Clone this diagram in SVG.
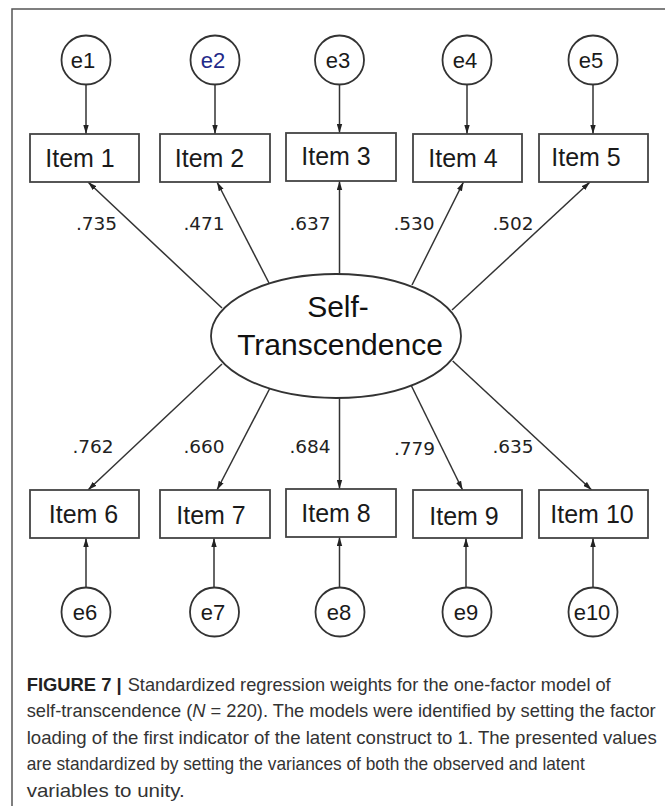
<svg xmlns="http://www.w3.org/2000/svg" width="665" height="806" viewBox="0 0 665 806">
<defs>
<style>
.frame{fill:none;stroke:#555;stroke-width:1.5}
.box{fill:#fff;stroke:#444;stroke-width:1.8}
.err{fill:#fff;stroke:#333;stroke-width:1.8}
.lat{fill:#fff;stroke:#333;stroke-width:1.8}
.lbl{font-family:"Liberation Sans",Arial,sans-serif;font-size:25px;fill:#1a1a1a;text-anchor:middle}
.elbl{font-family:"Liberation Sans",Arial,sans-serif;font-size:22px;fill:#1a1a1a;text-anchor:middle}
.big{font-family:"Liberation Sans",Arial,sans-serif;font-size:30px;fill:#111;text-anchor:middle}
.ld{font-family:"DejaVu Sans",sans-serif;font-size:18.5px;fill:#222;text-anchor:middle}
.cap{font-family:"Liberation Sans",Arial,sans-serif;font-size:18.5px;fill:#333}
.capb{font-family:"Liberation Sans",Arial,sans-serif;font-size:18.5px;font-weight:bold;fill:#222}
.edge{stroke:#333;stroke-width:1.5;fill:none;marker-end:url(#ah)}
</style>
<marker id="ah" viewBox="0 0 10 6" refX="10" refY="3" markerWidth="9" markerHeight="6" markerUnits="userSpaceOnUse" orient="auto">
<path d="M0,0 L10,3 L0,6 Z" fill="#222"/>
</marker>
</defs>
<rect x="0" y="0" width="665" height="806" fill="#fff"/>
<rect class="frame" x="12" y="9" width="700" height="850"/>

<g id="connectors">
<line class="edge" x1="86" y1="84" x2="86" y2="134"/>
<line class="edge" x1="215" y1="84" x2="215" y2="134"/>
<line class="edge" x1="339.5" y1="84" x2="339.5" y2="133"/>
<line class="edge" x1="467" y1="84" x2="467" y2="134"/>
<line class="edge" x1="593" y1="84" x2="593" y2="134"/>
<line class="edge" x1="86" y1="588" x2="86" y2="538"/>
<line class="edge" x1="214" y1="588" x2="214" y2="538"/>
<line class="edge" x1="339.5" y1="588" x2="339.5" y2="537"/>
<line class="edge" x1="466" y1="588" x2="466" y2="538"/>
<line class="edge" x1="593" y1="588" x2="593" y2="538"/>
<line class="edge" x1="222" y1="308" x2="88" y2="182"/>
<line class="edge" x1="269" y1="283" x2="217" y2="182"/>
<line class="edge" x1="339.5" y1="274" x2="339.5" y2="181"/>
<line class="edge" x1="412" y1="285" x2="463.5" y2="182"/>
<line class="edge" x1="452" y1="310" x2="590" y2="182"/>
<line class="edge" x1="222" y1="364" x2="88" y2="490"/>
<line class="edge" x1="270" y1="388" x2="217" y2="490"/>
<line class="edge" x1="339.5" y1="398" x2="339.5" y2="489"/>
<line class="edge" x1="411" y1="385" x2="462.6" y2="490"/>
<line class="edge" x1="452.7" y1="361" x2="591.7" y2="490"/>
<text class="ld" x="96.5" y="230">.735</text>
<text class="ld" x="204" y="230">.471</text>
<text class="ld" x="310" y="230">.637</text>
<text class="ld" x="414" y="230">.530</text>
<text class="ld" x="513" y="230">.502</text>
<text class="ld" x="93" y="453">.762</text>
<text class="ld" x="204" y="453">.660</text>
<text class="ld" x="310" y="453">.684</text>
<text class="ld" x="414.5" y="455">.779</text>
<text class="ld" x="513" y="453">.635</text>
</g>

<g id="latent">
<ellipse class="lat" cx="336" cy="336" rx="125" ry="62"/>
<text class="big" x="338" y="317">Self-</text>
<text class="big" x="340" y="355">Transcendence</text>
</g>

<g id="e1"><circle class="err" cx="86" cy="60" r="24.5"/><text class="elbl" x="83" y="68">e1</text></g>
<g id="e2"><circle class="err" cx="215" cy="60" r="24.5"/><text class="elbl" x="213" y="68" style="fill:#1f2a8a">e2</text></g>
<g id="e3"><circle class="err" cx="339.5" cy="60" r="24.5"/><text class="elbl" x="338" y="68">e3</text></g>
<g id="e4"><circle class="err" cx="467" cy="60" r="24.5"/><text class="elbl" x="465" y="68">e4</text></g>
<g id="e5"><circle class="err" cx="593" cy="60" r="24.5"/><text class="elbl" x="591" y="68">e5</text></g>

<g id="item1"><rect class="box" x="30" y="134" width="109" height="48"/><text class="lbl" x="80" y="167">Item 1</text></g>
<g id="item2"><rect class="box" x="160" y="134" width="110" height="48"/><text class="lbl" x="209.5" y="167">Item 2</text></g>
<g id="item3"><rect class="box" x="286" y="133" width="110" height="48"/><text class="lbl" x="336" y="165">Item 3</text></g>
<g id="item4"><rect class="box" x="413" y="134" width="109" height="48"/><text class="lbl" x="463" y="167">Item 4</text></g>
<g id="item5"><rect class="box" x="539" y="134" width="109" height="48"/><text class="lbl" x="586" y="166">Item 5</text></g>

<g id="item6"><rect class="box" x="30" y="490" width="109" height="48"/><text class="lbl" x="83.5" y="523">Item 6</text></g>
<g id="item7"><rect class="box" x="160" y="490" width="110" height="48"/><text class="lbl" x="211" y="524">Item 7</text></g>
<g id="item8"><rect class="box" x="286" y="489" width="110" height="48"/><text class="lbl" x="336" y="522">Item 8</text></g>
<g id="item9"><rect class="box" x="413" y="490" width="109" height="48"/><text class="lbl" x="464" y="525">Item 9</text></g>
<g id="item10"><rect class="box" x="539" y="490" width="109" height="48"/><text class="lbl" x="592" y="523">Item 10</text></g>

<g id="e6"><circle class="err" cx="86" cy="612" r="24.5"/><text class="elbl" x="85" y="620">e6</text></g>
<g id="e7"><circle class="err" cx="214.5" cy="612" r="24.5"/><text class="elbl" x="213" y="620">e7</text></g>
<g id="e8"><circle class="err" cx="340" cy="612" r="24.5"/><text class="elbl" x="339" y="620">e8</text></g>
<g id="e9"><circle class="err" cx="467" cy="612" r="24.5"/><text class="elbl" x="466" y="620">e9</text></g>
<g id="e10"><circle class="err" cx="593" cy="612" r="24.5"/><text class="elbl" x="592" y="620">e10</text></g>

<g id="caption">
<text class="capb" x="26.7" y="691" textLength="95" lengthAdjust="spacingAndGlyphs">FIGURE 7 |</text>
<text class="cap" x="127.7" y="691" textLength="483" lengthAdjust="spacingAndGlyphs">Standardized regression weights for the one-factor model of</text>
<text class="cap" x="26.7" y="717" textLength="629" lengthAdjust="spacingAndGlyphs">self-transcendence (<tspan font-style="italic">N</tspan> = 220). The models were identified by setting the factor</text>
<text class="cap" x="26.7" y="744" textLength="630" lengthAdjust="spacingAndGlyphs">loading of the first indicator of the latent construct to 1. The presented values</text>
<text class="cap" x="26.7" y="770" textLength="558" lengthAdjust="spacingAndGlyphs">are standardized by setting the variances of both the observed and latent</text>
<text class="cap" x="26.7" y="797" textLength="158" lengthAdjust="spacingAndGlyphs">variables to unity.</text>
</g>
</svg>
